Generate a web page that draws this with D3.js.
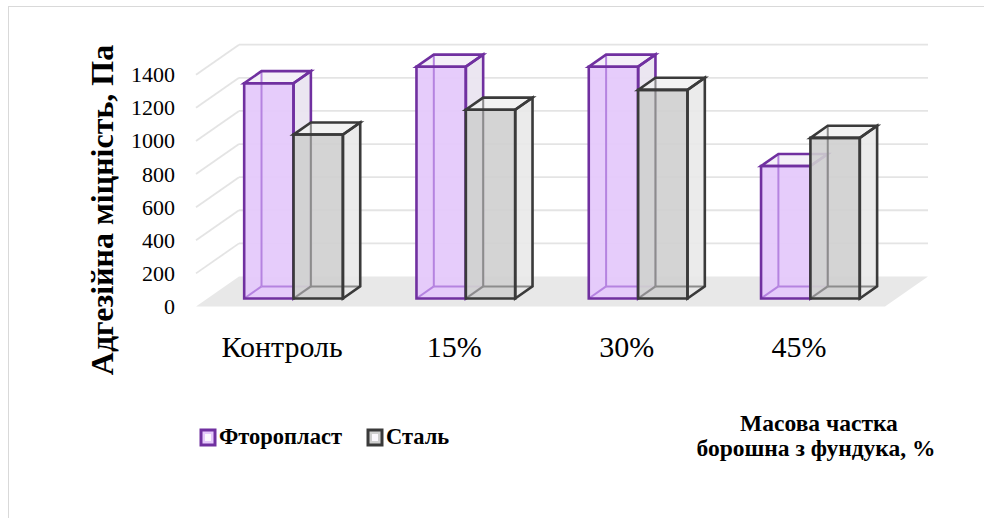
<!DOCTYPE html>
<html>
<head>
<meta charset="utf-8">
<script src="https://cdn.jsdelivr.net/npm/d3@7"></script>
<style>
  html, body { margin: 0; padding: 0; background: #fff; }
  svg { display: block; }
  svg text { font-family: "Liberation Serif", "Times New Roman", serif; }
</style>
</head>
<body>
<svg id="chart" width="984" height="518"></svg>
<script>
// Adhesive strength by hazelnut-flour share, two contact surfaces
const categories = ["Контроль", "15%", "30%", "45%"];
const seriesNames = ["Фторопласт", "Сталь"];
const ftoroplast = [1300, 1400, 1400, 800];
const stal = [990, 1140, 1260, 970];
const yTicks = [0, 200, 400, 600, 800, 1000, 1200, 1400];

const seriesValues = [ftoroplast, stal];
const serif = "'Liberation Serif', 'Times New Roman', serif";

const svg = d3.select("#chart");

// outer frame
svg.append("rect")
  .attr("x", 8.5).attr("y", 6.5).attr("width", 1000).attr("height", 530)
  .attr("fill", "none").attr("stroke", "#d9d9d9").attr("stroke-width", 1);

// oblique projection: depth fraction f shifts right and up
const DX = 43, DY = 30;
const FA = 0.267, FB = 0.67;

const x0 = d3.scaleBand().domain(categories).range([196, 885])
  .paddingInner(0.427).paddingOuter(0.213);
const x1 = d3.scaleBand().domain(seriesNames).range([0, x0.bandwidth()]);
const y = d3.scaleLinear().domain([0, 1400]).range([306.5, 74.7]);

const P = (x, v, f) => [x + f * DX, y(v) - f * DY];
const poly = pts => "M" + pts.map(p => p.join(",")).join("L") + "Z";
const seg = (a, b) => "M" + a.join(",") + "L" + b.join(",");

const xLeft = x0.range()[0], xRight = x0.range()[1];

// floor
svg.append("path")
  .attr("d", poly([[xLeft, y(0)], [xLeft + DX, y(0) - DY], [xRight + DX, y(0) - DY], [xRight, y(0)]]))
  .attr("fill", "#e8e8e8");

// gridlines: back wall and slanted left wall
const grid = svg.append("g").attr("stroke", "#e4e4e4").attr("stroke-width", 1.8).attr("fill", "none");
yTicks.filter(v => v > 0).forEach(v => {
  grid.append("path").attr("d", seg([xLeft, y(v)], [xLeft + DX, y(v) - DY]));
  grid.append("path").attr("d", seg([xLeft + DX, y(v) - DY], [xRight + DX, y(v) - DY]));
});

// bar styles per series
const styles = [
  { front: "#e5c9fb", side: "#eae5f0", top: "#f3eff8", edge: "#7030a0", hidden: "#b583e0", opacity: 0.95 },
  { front: "#cfcfcf", side: "#e9e9e9", top: "#f1f1f1", edge: "#3a3a3a", hidden: "#8c8c8c", opacity: 0.9 }
];

const bars = svg.append("g");
categories.forEach((c, ci) => {
  seriesNames.forEach((s, si) => {
    const v = seriesValues[si][ci];
    const st = styles[si];
    const xl = x0(c) + x1(s), xr = xl + x1.bandwidth();
    const g = bars.append("g");
    const front = [P(xl, 0, FA), P(xr, 0, FA), P(xr, v, FA), P(xl, v, FA)];
    const right = [P(xr, 0, FA), P(xr, 0, FB), P(xr, v, FB), P(xr, v, FA)];
    const top = [P(xl, v, FA), P(xr, v, FA), P(xr, v, FB), P(xl, v, FB)];
    g.append("path").attr("d", poly(right)).attr("fill", st.side).attr("fill-opacity", st.opacity);
    g.append("path").attr("d", poly(top)).attr("fill", st.top).attr("fill-opacity", st.opacity);
    g.append("path").attr("d", poly(front)).attr("fill", st.front).attr("fill-opacity", st.opacity);
    // edges seen through the translucent faces
    const hid = g.append("g").attr("stroke", st.hidden).attr("stroke-width", 2).attr("fill", "none");
    hid.append("path").attr("d", seg(P(xl, 0, FA), P(xl, 0, FB)));
    hid.append("path").attr("d", seg(P(xl, 0, FB), P(xr, 0, FB)));
    hid.append("path").attr("d", seg(P(xl, 0, FB), P(xl, v, FB)));
    // visible outline
    const vis = g.append("g").attr("stroke", st.edge).attr("stroke-width", 2.6)
      .attr("fill", "none").attr("stroke-linejoin", "miter");
    vis.append("path").attr("d", poly(front));
    vis.append("path").attr("d", poly(right));
    vis.append("path").attr("d", poly(top));
  });
});

// value axis
const yAxis = svg.append("g")
  .attr("transform", "translate(178,0)")
  .call(d3.axisLeft(y).tickValues(yTicks).tickSize(0).tickPadding(3).tickFormat(d3.format("d")));
yAxis.attr("font-family", null);
yAxis.select(".domain").remove();
yAxis.selectAll("text")
  .style("font-family", serif).style("font-size", "22px").attr("fill", "#000");

// category axis
const xAxis = svg.append("g")
  .attr("transform", "translate(0,330)")
  .call(d3.axisBottom(x0).tickSize(0).tickPadding(0));
xAxis.attr("font-family", null);
xAxis.select(".domain").remove();
xAxis.selectAll("text")
  .attr("y", 27).attr("dy", 0)
  .style("font-family", serif).style("font-size", "30px").attr("fill", "#000");

// value axis title
svg.append("text")
  .attr("transform", "translate(113,210) rotate(-90)")
  .attr("text-anchor", "middle")
  .style("font-family", serif).style("font-size", "32px").style("font-weight", "bold")
  .attr("fill", "#000")
  .text("Адгезійна міцність, Па");

// legend
const legendItems = [
  { name: seriesNames[0], x: 201, tx: 219 },
  { name: seriesNames[1], x: 368, tx: 386 }
];
const legend = svg.append("g");
legendItems.forEach((item, i) => {
  const st = styles[i];
  legend.append("rect")
    .attr("x", item.x).attr("y", 430).attr("width", 14).attr("height", 15)
    .attr("fill", st.front).attr("stroke", st.edge).attr("stroke-width", 3);
  legend.append("rect")
    .attr("x", item.x + 4).attr("y", 434).attr("width", 6).attr("height", 7)
    .attr("fill", "#fbf8fd");
  legend.append("text")
    .attr("x", item.tx).attr("y", 444)
    .style("font-family", serif).style("font-size", "22.5px").style("font-weight", "bold")
    .attr("fill", "#000")
    .text(item.name);
});

// category axis title
const xTitle = svg.append("text")
  .attr("text-anchor", "middle")
  .style("font-family", serif).style("font-size", "23.5px").style("font-weight", "bold")
  .attr("fill", "#000");
xTitle.append("tspan").attr("x", 819).attr("y", 431).text("Масова частка");
xTitle.append("tspan").attr("x", 816).attr("y", 456).text("борошна з фундука, %");
</script>
</body>
</html>
